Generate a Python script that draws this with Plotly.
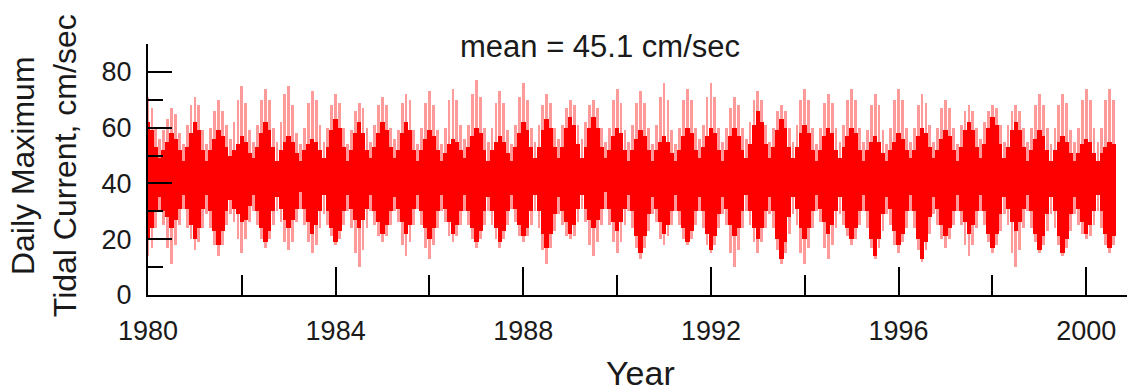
import plotly.graph_objects as go

# Monthly summaries of the daily maximum tidal current (cm/sec), Jan 1980 .. Aug 2000
# core_hi / core_lo : extent of the dense (dark red) band in each month
# spike_hi / spike_lo : extreme single-day values (light red spikes) in each month
start_year = 1980
core_hi = [
    62, 59, 53, 49, 52, 55,  58, 56, 52, 48, 53, 58,  62, 59, 52, 48, 52, 56,
    59, 57, 53, 50, 52, 54,  57, 55, 51, 49, 53, 58,  62, 59, 53, 48, 52, 55,
    57, 55, 51, 48, 52, 54,  56, 55, 52, 49, 53, 59,  63, 60, 53, 48, 52, 58,
    62, 58, 52, 49, 53, 58,  62, 59, 53, 49, 52, 58,  62, 59, 52, 48, 52, 56,
    59, 57, 52, 48, 51, 54,  56, 55, 52, 49, 53, 57,  60, 58, 52, 48, 52, 55,
    57, 55, 51, 48, 53, 58,  62, 59, 53, 49, 53, 59,  63, 60, 53, 49, 53, 60,
    64, 61, 54, 49, 53, 60,  64, 60, 53, 49, 52, 57,  60, 58, 52, 48, 52, 56,
    59, 57, 52, 48, 52, 55,  57, 55, 51, 48, 52, 57,  60, 58, 52, 49, 53, 57,
    60, 58, 52, 48, 52, 57,  60, 57, 52, 49, 54, 61,  66, 62, 54, 49, 53, 59,
    63, 60, 53, 49, 53, 58,  61, 58, 52, 48, 52, 57,  60, 58, 52, 49, 53, 57,
    60, 58, 52, 48, 52, 55,  57, 55, 51, 48, 52, 55,  58, 56, 52, 49, 52, 57,
    60, 58, 53, 49, 52, 56,  59, 57, 52, 48, 53, 59,  62, 59, 53, 49, 54, 60,
    64, 61, 54, 49, 53, 59,  62, 59, 53, 48, 52, 56,  59, 57, 52, 48, 52, 55,
    57, 55, 51, 48, 51, 54,  56, 55, 51, 48, 51, 53,  55, 54,
]
core_lo = [
    20, 24, 30, 35, 30, 28,  24, 27, 31, 36, 31, 25,  20, 24, 31, 36, 30, 23,
    18, 23, 30, 34, 31, 29,  26, 27, 32, 36, 30, 24,  19, 23, 30, 35, 31, 27,
    24, 27, 31, 37, 31, 26,  22, 25, 30, 36, 30, 24,  19, 23, 30, 36, 31, 27,
    24, 27, 31, 36, 30, 26,  22, 25, 30, 35, 31, 26,  22, 25, 31, 36, 30, 24,
    20, 24, 30, 36, 31, 26,  22, 25, 30, 36, 30, 24,  19, 23, 30, 35, 30, 24,
    19, 23, 30, 36, 31, 25,  21, 24, 30, 36, 30, 22,  17, 22, 29, 35, 30, 26,
    22, 25, 31, 36, 31, 27,  24, 27, 31, 37, 31, 26,  23, 26, 31, 36, 30, 21,
    15, 21, 29, 35, 31, 26,  22, 25, 30, 36, 30, 24,  19, 23, 30, 35, 30, 22,
    16, 21, 29, 35, 31, 25,  21, 24, 30, 36, 30, 24,  20, 24, 30, 35, 30, 20,
    13, 19, 28, 35, 31, 24,  20, 24, 30, 36, 31, 26,  22, 25, 30, 35, 30, 24,
    20, 24, 30, 36, 30, 20,  14, 20, 29, 35, 31, 23,  18, 22, 30, 36, 30, 20,
    13, 19, 28, 35, 31, 25,  21, 24, 30, 36, 30, 26,  22, 25, 30, 36, 30, 22,
    17, 22, 29, 35, 31, 26,  23, 26, 31, 36, 30, 22,  16, 21, 29, 35, 30, 21,
    15, 20, 29, 35, 31, 26,  22, 25, 30, 36, 30, 22,  17, 21,
]
spike_hi = [
    71, 67, 60, 56, 59, 63,  67, 65, 58, 54, 61, 68,  71, 68, 59, 54, 60, 66,
    70, 66, 61, 56, 62, 70,  75, 69, 59, 55, 61, 70,  74, 70, 60, 55, 62, 72,
    75, 68, 58, 54, 60, 69,  73, 70, 61, 55, 60, 68,  72, 69, 60, 54, 59, 66,
    69, 67, 60, 55, 61, 68,  71, 68, 60, 56, 59, 69,  72, 70, 59, 54, 60, 69,
    73, 68, 59, 54, 60, 70,  74, 70, 61, 56, 61, 72,  77, 71, 60, 55, 60, 69,
    73, 69, 59, 54, 61, 71,  76, 70, 60, 55, 61, 68,  72, 69, 60, 56, 61, 67,
    70, 68, 61, 56, 62, 68,  70, 67, 60, 55, 60, 70,  74, 69, 59, 55, 61, 69,
    73, 69, 60, 54, 61, 71,  76, 70, 59, 54, 60, 70,  74, 70, 60, 56, 61, 71,
    76, 71, 60, 55, 60, 67,  71, 68, 60, 56, 62, 70,  73, 70, 61, 55, 60, 66,
    68, 66, 60, 55, 61, 70,  74, 70, 60, 54, 60, 69,  72, 69, 60, 55, 61, 70,
    74, 70, 60, 55, 59, 68,  72, 68, 59, 54, 60, 70,  74, 70, 60, 55, 60, 68,
    72, 69, 61, 55, 60, 67,  70, 67, 60, 54, 61, 66,  68, 66, 60, 56, 62, 66,
    68, 67, 61, 55, 61, 66,  68, 66, 60, 55, 60, 68,  72, 68, 60, 54, 60, 68,
    72, 69, 59, 55, 60, 70,  74, 70, 60, 55, 60, 70,  74, 70,
]
spike_lo = [
    14, 17, 24, 30, 25, 17,  11, 18, 25, 31, 24, 20,  16, 19, 24, 29, 24, 18,
    14, 18, 25, 29, 26, 20,  15, 20, 26, 30, 25, 20,  17, 20, 25, 30, 26, 19,
    16, 19, 26, 31, 25, 19,  15, 18, 24, 29, 25, 21,  18, 20, 25, 30, 24, 15,
    10, 16, 24, 30, 25, 21,  19, 21, 25, 30, 26, 18,  14, 19, 25, 31, 25, 17,
    13, 18, 24, 30, 26, 21,  19, 21, 25, 30, 25, 20,  17, 20, 25, 30, 25, 20,
    17, 20, 25, 31, 26, 21,  19, 21, 25, 30, 24, 16,  11, 17, 23, 29, 25, 21,
    20, 21, 26, 31, 26, 18,  14, 19, 25, 31, 25, 19,  15, 19, 25, 30, 24, 17,
    13, 17, 23, 29, 26, 20,  18, 21, 25, 30, 25, 20,  18, 20, 25, 30, 24, 18,
    15, 18, 24, 29, 25, 15,  10, 16, 24, 30, 25, 19,  15, 19, 24, 29, 24, 16,
    11, 15, 22, 29, 25, 15,  11, 17, 24, 30, 26, 17,  13, 18, 24, 29, 25, 21,
    18, 20, 25, 30, 24, 17,  13, 17, 23, 29, 25, 18,  15, 19, 24, 30, 24, 16,
    12, 16, 22, 29, 25, 20,  17, 20, 25, 30, 25, 18,  14, 18, 24, 30, 25, 19,
    15, 18, 23, 29, 25, 15,  10, 16, 24, 30, 24, 19,  15, 18, 23, 29, 24, 18,
    14, 17, 23, 29, 25, 22,  20, 21, 25, 30, 24, 18,  15, 18,
]

x_tick_step = 4
x_minor_step = 2
y_tick_step = 20
y_minor_step = 10

t = [start_year + m / 12 for m in range(len(core_hi))]
spike_len = [h - l for h, l in zip(spike_hi, spike_lo)]
core_len = [h - l for h, l in zip(core_hi, core_lo)]

fig = go.Figure()
fig.add_trace(go.Bar(x=t, base=spike_lo, y=spike_len, width=0.72 / 12,
                     marker=dict(color="#ff9a9a", line=dict(width=0)),
                     opacity=1, hoverinfo="skip"))
fig.add_trace(go.Bar(x=t, base=core_lo, y=core_len, width=1.15 / 12,
                     marker=dict(color="#ff0000", line=dict(width=0)),
                     opacity=1, hoverinfo="skip"))

FONT = "Liberation Sans, Arial, sans-serif"
TXT = "#1a1a1a"

fig.update_layout(
    barmode="overlay", bargap=0,
    width=1127, height=391,
    margin=dict(l=148, r=0, t=44, b=96),
    plot_bgcolor="white", paper_bgcolor="white",
    showlegend=False,
    font=dict(family=FONT, size=27, color=TXT),
)
fig.update_xaxes(
    range=[1980, 2000.87], tick0=1980, dtick=x_tick_step,
    ticks="inside", ticklen=28, tickwidth=2, tickcolor="black",
    showline=True, linecolor="black", linewidth=2,
    showgrid=False, zeroline=False,
    minor=dict(tick0=1980, dtick=x_minor_step, ticks="inside", ticklen=20,
               tickwidth=2, tickcolor="black", showgrid=False),
    tickfont=dict(family=FONT, size=27, color=TXT),
    ticklabelstandoff=11,
)
fig.update_yaxes(
    range=[0, 90], tick0=0, dtick=y_tick_step,
    ticks="inside", ticklen=24, tickwidth=2, tickcolor="black",
    showline=True, linecolor="black", linewidth=2,
    showgrid=False, zeroline=False,
    minor=dict(tick0=0, dtick=y_minor_step, ticks="inside", ticklen=15,
               tickwidth=2, tickcolor="black", showgrid=False),
    tickfont=dict(family=FONT, size=27, color=TXT),
    ticklabelstandoff=9,
)

fig.add_annotation(text="mean = 45.1 cm/sec", xref="paper", yref="paper",
                   x=0.462, y=0.99, xanchor="center", yanchor="middle",
                   showarrow=False, font=dict(family=FONT, size=31, color=TXT))
fig.add_annotation(text="Daily Maximum<br>Tidal Current, cm/sec", xref="paper", yref="paper",
                   x=-0.106, y=0.514, xanchor="center", yanchor="middle", textangle=-90,
                   showarrow=False, font=dict(family=FONT, size=32, color=TXT))
fig.add_annotation(text="Year", xref="paper", yref="paper",
                   x=0.5026, y=-0.31, xanchor="center", yanchor="middle",
                   showarrow=False, font=dict(family=FONT, size=34, color=TXT))

fig.write_html("out.html", config={"displayModeBar": False},
               post_script="document.body.style.margin='0';document.body.style.padding='0';")
